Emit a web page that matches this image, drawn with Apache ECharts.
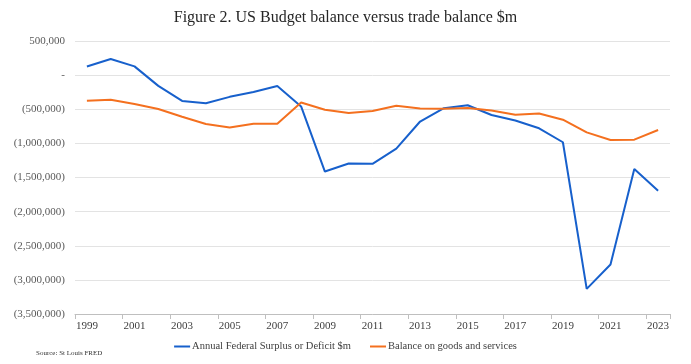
<!DOCTYPE html>
<html><head><meta charset="utf-8">
<script src="https://cdn.jsdelivr.net/npm/echarts@6/dist/echarts.min.js"></script>
<style>html,body{margin:0;padding:0;background:#fff}#c{width:691px;height:364px}</style>
</head><body><div id="c"></div>
<script>
const years = ['1999','2000','2001','2002','2003','2004','2005','2006','2007','2008','2009','2010','2011','2012','2013','2014','2015','2016','2017','2018','2019','2020','2021','2022','2023'];
const federalBalance = [125610,236241,128236,-157758,-377585,-412727,-318346,-248181,-160701,-458553,-1412688,-1294373,-1299593,-1076574,-679775,-484597,-441960,-584651,-665446,-779137,-983593,-3132460,-2775306,-1375945,-1693721];
const tradeBalance = [-376000,-361000,-423000,-497000,-610000,-717000,-766000,-712000,-712000,-400000,-507000,-556000,-527000,-449000,-488000,-493000,-483000,-517000,-580000,-561000,-653000,-839000,-950000,-946000,-804000];
const seriesNames = ['Annual Federal Surplus or Deficit $m','Balance on goods and services'];
const titleText = 'Figure 2. US Budget balance versus trade balance $m';
const sourceText = 'Source: St Louis FRED';

const serif = '"Liberation Serif", "Times New Roman", serif';
function fmt(v){
  if (v === 0) return '-';
  const s = Math.abs(v).toLocaleString('en-US');
  return v < 0 ? '(' + s + ')' : s;
}
const chart = echarts.init(document.getElementById('c'));
chart.setOption({
  animation: false,
  title: [{
    text: titleText, left: 'center', top: 5,
    textStyle: {fontFamily: serif, fontSize: 16, fontWeight: 'normal', color: '#262626'}
  },{
    text: sourceText, left: 31, top: 345,
    textStyle: {fontFamily: serif, fontSize: 7, fontWeight: 'normal', color: '#333'}
  }],
  legend: {
    top: 336, left: 'center', itemWidth: 16, itemHeight: 2, itemGap: 19,
    icon: 'rect',
    textStyle: {fontFamily: serif, fontSize: 10.5, color: '#404040', padding: [0, 0, 0, -3]},
    data: seriesNames
  },
  grid: {left: 75, right: 21, top: 41, bottom: 50},
  xAxis: {
    type: 'category', data: years, boundaryGap: true,
    axisLine: {onZero: false, lineStyle: {color: '#bfbfbf'}},
    axisTick: {show: true, interval: 1, length: 5, lineStyle: {color: '#bfbfbf'}},
    axisLabel: {interval: 1, fontFamily: serif, fontSize: 11, color: '#404040', margin: 7}
  },
  yAxis: {
    type: 'value', min: -3500000, max: 500000, interval: 500000,
    axisLine: {show: false}, axisTick: {show: false},
    splitLine: {lineStyle: {color: '#e3e3e3'}},
    axisLabel: {formatter: fmt, fontFamily: serif, fontSize: 11, color: '#595959', margin: 10}
  },
  series: [{
    name: seriesNames[0], type: 'line', data: federalBalance, symbol: 'none',
    lineStyle: {color: '#1760CC', width: 2}, itemStyle: {color: '#1760CC'}
  },{
    name: seriesNames[1], type: 'line', data: tradeBalance, symbol: 'none',
    lineStyle: {color: '#F4701F', width: 2}, itemStyle: {color: '#F4701F'}
  }]
});
</script></body></html>
